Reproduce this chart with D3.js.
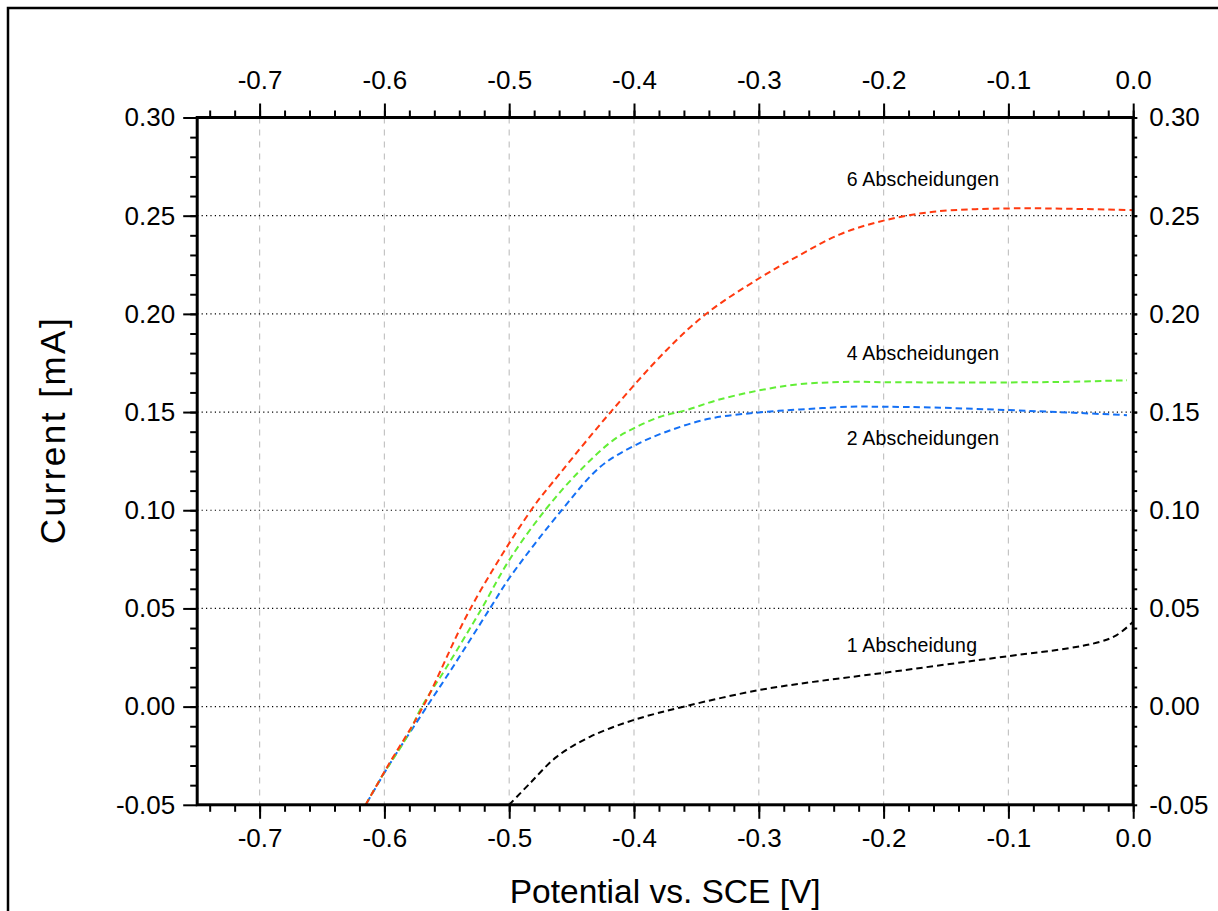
<!DOCTYPE html>
<html>
<head>
<meta charset="utf-8">
<script src="https://cdn.jsdelivr.net/npm/d3@7/dist/d3.min.js"></script>
<style>
  html, body { margin: 0; padding: 0; background: #fff; }
  svg { display: block; }
  text { font-family: "Liberation Sans", Arial, Helvetica, sans-serif; fill: #000; }
</style>
</head>
<body>
<svg id="chart" width="1218" height="911"></svg>
<script>
// ---------- data ----------
const redPotential   = [-0.615,-0.598,-0.569,-0.531,-0.4825,-0.459,-0.4187,-0.374,-0.3418,-0.3,-0.267,-0.235,-0.2,-0.16,-0.1,-0.05,0.0];
const redCurrent     = [-0.05,-0.031,0.0,0.05,0.10,0.119,0.15,0.1815,0.2002,0.218,0.230,0.2405,0.2475,0.252,0.2537,0.2535,0.2528];

const greenPotential = [-0.615,-0.603,-0.582,-0.570,-0.55,-0.522,-0.5,-0.4713,-0.443,-0.4166,-0.4006,-0.379,-0.358,-0.3337,-0.3,-0.267,-0.227,-0.2,-0.1,-0.053,-0.005];
const greenCurrent   = [-0.05,-0.0366,-0.0154,0.0,0.0203,0.05,0.0746,0.10,0.1204,0.1357,0.1416,0.1476,0.151,0.156,0.161,0.1642,0.1654,0.1652,0.1651,0.1654,0.1662];

const bluePotential  = [-0.614,-0.5955,-0.566,-0.545,-0.5154,-0.4993,-0.458,-0.427,-0.4006,-0.374,-0.339,-0.3,-0.267,-0.227,-0.2,-0.16,-0.1,-0.053,-0.005];
const blueCurrent    = [-0.049,-0.029,0.0,0.0203,0.05,0.066,0.10,0.1221,0.1326,0.140,0.1467,0.1498,0.1513,0.1527,0.1527,0.1523,0.151,0.1498,0.1484];

const blackPotential = [-0.5,-0.4833,-0.462,-0.4353,-0.4006,-0.358,-0.3,-0.2563,-0.2,-0.1,-0.053,-0.0266,-0.0132,0.0];
const blackCurrent   = [-0.05,-0.039,-0.0256,-0.0154,-0.0069,0.0003,0.0084,0.0126,0.0172,0.0257,0.0296,0.033,0.0364,0.0432];

const xTickValues = [-0.7,-0.6,-0.5,-0.4,-0.3,-0.2,-0.1,0.0];
const yTickValues = [-0.05,0.00,0.05,0.10,0.15,0.20,0.25,0.30];
const xGridValues = [-0.7,-0.6,-0.5,-0.4,-0.3,-0.2,-0.1];
const yGridValues = [0.00,0.05,0.10,0.15,0.20,0.25];

const labelTexts    = ["6 Abscheidungen","4 Abscheidungen","2 Abscheidungen","1 Abscheidung"];
const labelPotential= [-0.2296,-0.2296,-0.2296,-0.2296];
const labelCurrent  = [0.265,0.1764,0.1331,0.0279];

const xTitle = "Potential vs. SCE [V]";
const yTitle = "Current [mA]";

// ---------- layout ----------
const svg = d3.select("#chart");
const L = 197.2, R = 1133.2, T = 117.5, B = 804.8;
const x = d3.scaleLinear().domain([-0.75, 0.0]).range([L, R]);
const y = d3.scaleLinear().domain([-0.05, 0.30]).range([B, T]);

// outer frame
svg.append("rect").attr("x", 8).attr("y", 8).attr("width", 1230).attr("height", 930)
  .attr("fill", "none").attr("stroke", "#000").attr("stroke-width", 2.5);

// grid
svg.append("g").selectAll("line").data(xGridValues).join("line")
  .attr("x1", d => x(d)).attr("x2", d => x(d)).attr("y1", T).attr("y2", B)
  .attr("stroke", "#c4c4c4").attr("stroke-width", 1.2).attr("stroke-dasharray", "6,6");
svg.append("g").selectAll("line").data(yGridValues).join("line")
  .attr("x1", L).attr("x2", R).attr("y1", d => y(d)).attr("y2", d => y(d))
  .attr("stroke", "#000").attr("stroke-width", 1.2).attr("stroke-dasharray", "1.2,3.2");

// curves
svg.append("clipPath").attr("id", "plotclip").append("rect")
  .attr("x", L).attr("y", T).attr("width", R - L).attr("height", B - T);
const line = d3.line().x(d => x(d[0])).y(d => y(d[1])).curve(d3.curveCatmullRom.alpha(0.5));
const series = [
  {p: blackPotential, c: blackCurrent, color: "#000000"},
  {p: bluePotential,  c: blueCurrent,  color: "#1470f5"},
  {p: greenPotential, c: greenCurrent, color: "#62ee36"},
  {p: redPotential,   c: redCurrent,   color: "#ff3a10"}
];
const cg = svg.append("g").attr("clip-path", "url(#plotclip)");
series.forEach(s => {
  cg.append("path").datum(d3.zip(s.p, s.c)).attr("d", line)
    .attr("fill", "none").attr("stroke", s.color).attr("stroke-width", 2)
    .attr("stroke-dasharray", "6.5,4");
});

// labels
svg.append("g").selectAll("text").data(d3.range(labelTexts.length)).join("text")
  .attr("x", i => x(labelPotential[i])).attr("y", i => y(labelCurrent[i]))
  .attr("font-size", 19.5).attr("letter-spacing", 0.2).text(i => labelTexts[i]);

// axes
const fx = d => d.toFixed(1);
const fy = d => d.toFixed(2);
const xMinor = d3.range(-0.74, 0.0001, 0.02).map(v => +v.toFixed(3));
const yMinor = d3.range(-0.04, 0.3001, 0.01).map(v => +v.toFixed(3));

function styleAxis(g) {
  g.select(".domain").remove();
  g.selectAll(".tick line").attr("stroke", "#000").attr("stroke-width", 2);
  g.selectAll(".tick text").attr("font-size", 26).attr("fill", "#000")
    .attr("font-family", '"Liberation Sans", Arial, sans-serif');
}
// minor ticks
svg.append("g").attr("transform", `translate(0,${T})`)
  .call(d3.axisTop(x).tickValues(xMinor).tickSize(7).tickFormat("")).call(styleAxis);
svg.append("g").attr("transform", `translate(0,${B})`)
  .call(d3.axisBottom(x).tickValues(xMinor).tickSize(7).tickFormat("")).call(styleAxis);
svg.append("g").attr("transform", `translate(${L},0)`)
  .call(d3.axisLeft(y).tickValues(yMinor).tickSize(7).tickFormat("")).call(styleAxis);
svg.append("g").attr("transform", `translate(${R},0)`)
  .call(d3.axisRight(y).tickValues(yMinor).tickSize(4).tickFormat("")).call(styleAxis);
// major ticks
svg.append("g").attr("transform", `translate(0,${T})`)
  .call(d3.axisTop(x).tickValues(xTickValues).tickSize(14).tickPadding(15).tickFormat(fx)).call(styleAxis);
svg.append("g").attr("transform", `translate(0,${B})`)
  .call(d3.axisBottom(x).tickValues(xTickValues).tickSize(14).tickPadding(10).tickFormat(fx)).call(styleAxis);
svg.append("g").attr("transform", `translate(${L},0)`)
  .call(d3.axisLeft(y).tickValues(yTickValues).tickSize(14).tickPadding(8).tickFormat(fy)).call(styleAxis);
svg.append("g").attr("transform", `translate(${R},0)`)
  .call(d3.axisRight(y).tickValues(yTickValues).tickSize(4).tickPadding(12).tickFormat(fy)).call(styleAxis);

// axis lines (frame of plot)
svg.append("rect").attr("x", L).attr("y", T).attr("width", R - L).attr("height", B - T)
  .attr("fill", "none").attr("stroke", "#000").attr("stroke-width", 3);

// titles
svg.append("text").attr("x", (L + R) / 2).attr("y", 903).attr("text-anchor", "middle")
  .attr("font-size", 33.5).text(xTitle);
svg.append("text").attr("transform", `translate(65,430) rotate(-90)`)
  .attr("text-anchor", "middle").attr("font-size", 35).attr("letter-spacing", 2.5).text(yTitle);
</script>
</body>
</html>
